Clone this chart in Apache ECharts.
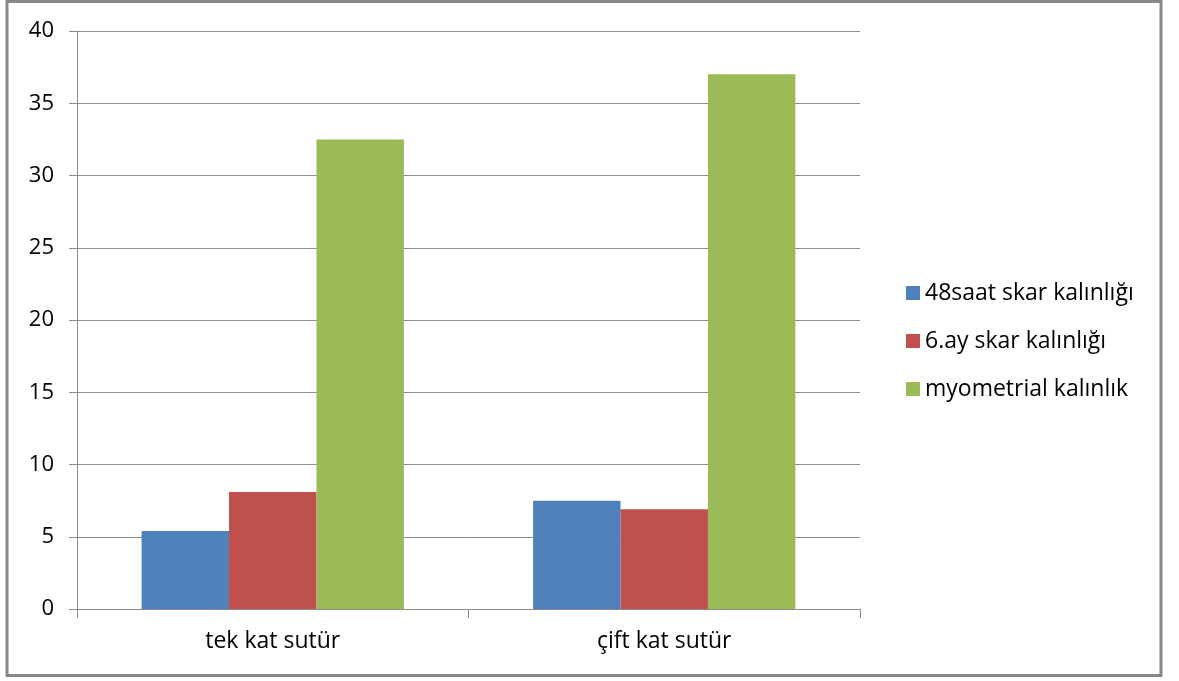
<!DOCTYPE html>
<html>
<head>
<meta charset="utf-8">
<script src="https://cdn.jsdelivr.net/npm/echarts@6/dist/echarts.min.js"></script>
<style>
  html, body { margin: 0; padding: 0; background: #fff; }
  #chart { width: 1179px; height: 681px; }
</style>
</head>
<body>
<div id="chart"></div>
<script>
// Categories and series values
const categories = ['tek kat sutür', 'çift kat sutür'];
const seriesNames = ['48saat skar kalınlığı', '6.ay skar kalınlığı', 'myometrial kalınlık'];
const scar48h = [5.4, 7.5];
const scar6m = [8.1, 6.9];
const myometrial = [32.5, 37];
const colors = ['#4F81BD', '#C0504D', '#9BBB59'];

const FONT = '"Open Sans", Lato, sans-serif';
const chart = echarts.init(document.getElementById('chart'));

const values = [scar48h, scar6m, myometrial];

chart.setOption({
  animation: false,
  textStyle: { fontFamily: FONT },
  graphic: [{
    type: 'rect',
    shape: { x: 7, y: 1.5, width: 1154, height: 674 },
    style: { fill: 'none', stroke: '#878787', lineWidth: 3 },
    silent: true
  }],
  grid: { left: 77, right: 319, top: 31, bottom: 72 },
  legend: {
    orient: 'vertical',
    left: 901,
    top: 276,
    itemWidth: 14,
    itemHeight: 14,
    itemGap: 24,
    icon: 'rect',
    textStyle: { fontSize: 23, color: '#000', lineHeight: 24, fontFamily: FONT, padding: [0, 0, 0, 0] },
    data: seriesNames
  },
  xAxis: {
    type: 'category',
    data: categories,
    boundaryGap: true,
    axisLine: { show: true, lineStyle: { color: '#8c8c8c', width: 1 } },
    axisTick: { show: true, length: 9, lineStyle: { color: '#8c8c8c' } },
    axisLabel: { fontSize: 23, color: '#000', margin: 21, fontFamily: FONT },
    splitLine: { show: false }
  },
  yAxis: {
    type: 'value',
    min: 0,
    max: 40,
    interval: 5,
    axisLine: { show: true, lineStyle: { color: '#8c8c8c', width: 1 } },
    axisTick: { show: true, length: 8, lineStyle: { color: '#8c8c8c' } },
    axisLabel: { fontSize: 22, color: '#000', margin: 23, fontFamily: FONT },
    splitLine: { show: true, lineStyle: { color: '#8c8c8c', width: 1 } }
  },
  series: seriesNames.map((name, i) => ({
    name: name,
    type: 'bar',
    data: values[i],
    barGap: '0%',
    barCategoryGap: '33%',
    itemStyle: { color: colors[i] }
  }))
});
</script>
</body>
</html>
